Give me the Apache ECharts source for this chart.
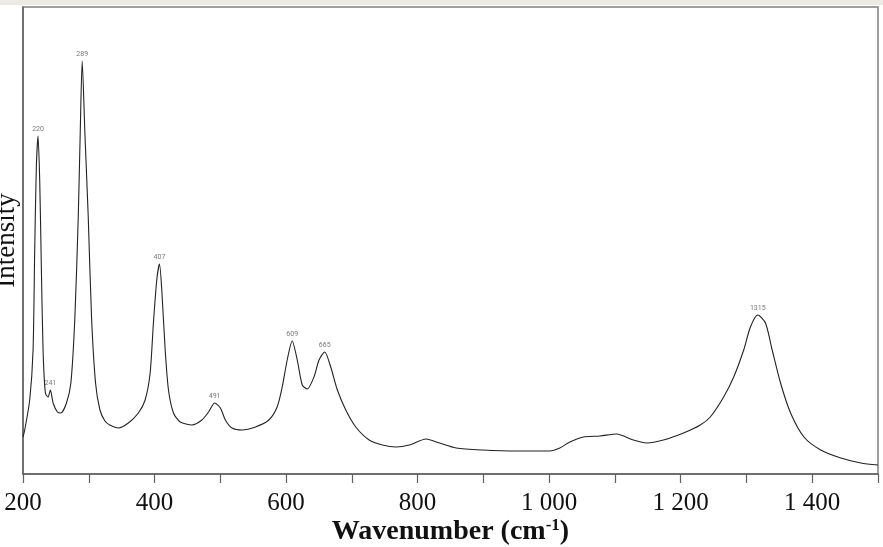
<!DOCTYPE html>
<html>
<head>
<meta charset="utf-8">
<script src="https://cdn.jsdelivr.net/npm/echarts@6/dist/echarts.min.js"></script>
<style>html,body{margin:0;padding:0;background:#fff;}#c{width:883px;height:547px;}</style>
</head>
<body>
<div id="c"></div>
<script>
// Raman spectrum: wavenumber (cm-1) and intensity (arbitrary units)
const wavenumbers = [200,202.6,210.2,215.3,217.8,220.3,222.9,225.5,227.9,230.5,234,238.1,241.6,245.8,252.3,257.5,266.1,272.8,278.9,284,287,290,294.1,299.2,304.2,310.3,317,324.6,332,344.9,360.2,375.4,385.7,393.3,398.3,403.4,407.5,411,416.2,421.2,428.8,439.1,456.8,472,482.2,491.4,500.1,507.7,517.8,533,553.5,573.8,586.4,594.1,601.7,609.3,617,624.6,632.2,642.4,650.1,658.7,667.9,678,690.8,706,726.3,746.6,767.1,787.4,812.8,833.1,858.6,899.2,950.1,1000.9,1016.2,1031.5,1051.7,1077.2,1102.7,1128,1148.5,1173.8,1204.3,1229.8,1245,1265.3,1280.6,1295.8,1306,1317.2,1328.9,1339.1,1351.8,1367.1,1387.4,1412.9,1443.4,1473.9,1500];
const intensity = [37,44,74,124,224,307,338,291,207,124,81,77,84,71,62,61,71,91,157,257,341,413,341,257,157,91,64,53,49,46,51,61,74,101,151,194,210,184,124,84,61,52,49,54,62,71,66,54,46,44,47,54,67,87,114,133,114,89,85,97,114,122,107,84,64,47,34,29,27,29,35,31,26,24,23,23,26,32,37,38,40,34,31,34,41,49,57,77,97,124,147,159,151,124,91,61,37,24,16,11,9];
// Peak annotations
const peakLabels = ['220','241','289','407','491','609','665','1315'];
const peakX = [222.9,241.6,290,407.5,491.4,609.3,658.7,1317.2];
const peakY = [338,84,413,210,71,133,122,159];
// Axis
const xMin = 200, xMax = 1500, xStep = 100;
const xLabelValues = [200,400,600,800,1000,1200,1400];

const chart = echarts.init(document.getElementById('c'));
const serif = '"Liberation Serif","Times New Roman",serif';
chart.setOption({
  animation: false,
  backgroundColor: '#ffffff',
  grid: {left: 23, right: 5, top: 7, bottom: 73, containLabel: false, outerBoundsMode: 'none',
    show: true, borderColor: '#808080', borderWidth: 1.5, backgroundColor: '#ffffff'},
  graphic: [{type: 'rect', shape: {x: 0, y: 0, width: 883, height: 5}, style: {fill: '#ecebe3'}, z: -1}],
  xAxis: {
    type: 'value', min: xMin, max: xMax, interval: xStep,
    axisLine: {show: true, lineStyle: {color: '#606060', width: 1.5}},
    axisTick: {show: true, length: 9, lineStyle: {color: '#606060', width: 1.2}},
    splitLine: {show: false},
    axisLabel: {
      margin: 17, color: '#111', fontFamily: serif, fontSize: 25,
      formatter: v => xLabelValues.includes(v) ? (v >= 1000 ? Math.floor(v/1000) + ' ' + String(v % 1000).padStart(3,'0') : String(v)) : ''
    },
    name: 'Wavenumber (cm{sup|-1})',
    nameLocation: 'middle', nameGap: 43, nameMoveOverlap: false,
    nameTextStyle: {color: '#111', fontFamily: serif, fontSize: 28, fontWeight: 'bold',
      rich: {sup: {fontFamily: serif, fontSize: 17, fontWeight: 'bold', color: '#111', verticalAlign: 'top', padding: [0,0,12,0]}}}
  },
  yAxis: {
    type: 'value', min: 0, max: 467,
    axisLine: {show: true, lineStyle: {color: '#606060', width: 1.5}},
    axisTick: {show: false}, axisLabel: {show: false}, splitLine: {show: false},
    name: 'Intensity', nameLocation: 'middle', nameGap: 3, nameRotate: 90,
    nameTextStyle: {color: '#111', fontFamily: serif, fontSize: 27}
  },
  series: [
    {
      type: 'line', data: wavenumbers.map((w, i) => [w, intensity[i]]),
      showSymbol: false, smooth: 0.25,
      lineStyle: {color: '#222', width: 1.1}, z: 3
    },
    {
      type: 'scatter', data: peakX.map((w, i) => [w, peakY[i]]),
      symbolSize: 0, silent: true,
      label: {show: true, position: 'top', distance: 3, color: '#555', fontSize: 7, fontFamily: 'Roboto, sans-serif',
        formatter: p => peakLabels[p.dataIndex]}
    }
  ]
});
</script>
</body>
</html>
